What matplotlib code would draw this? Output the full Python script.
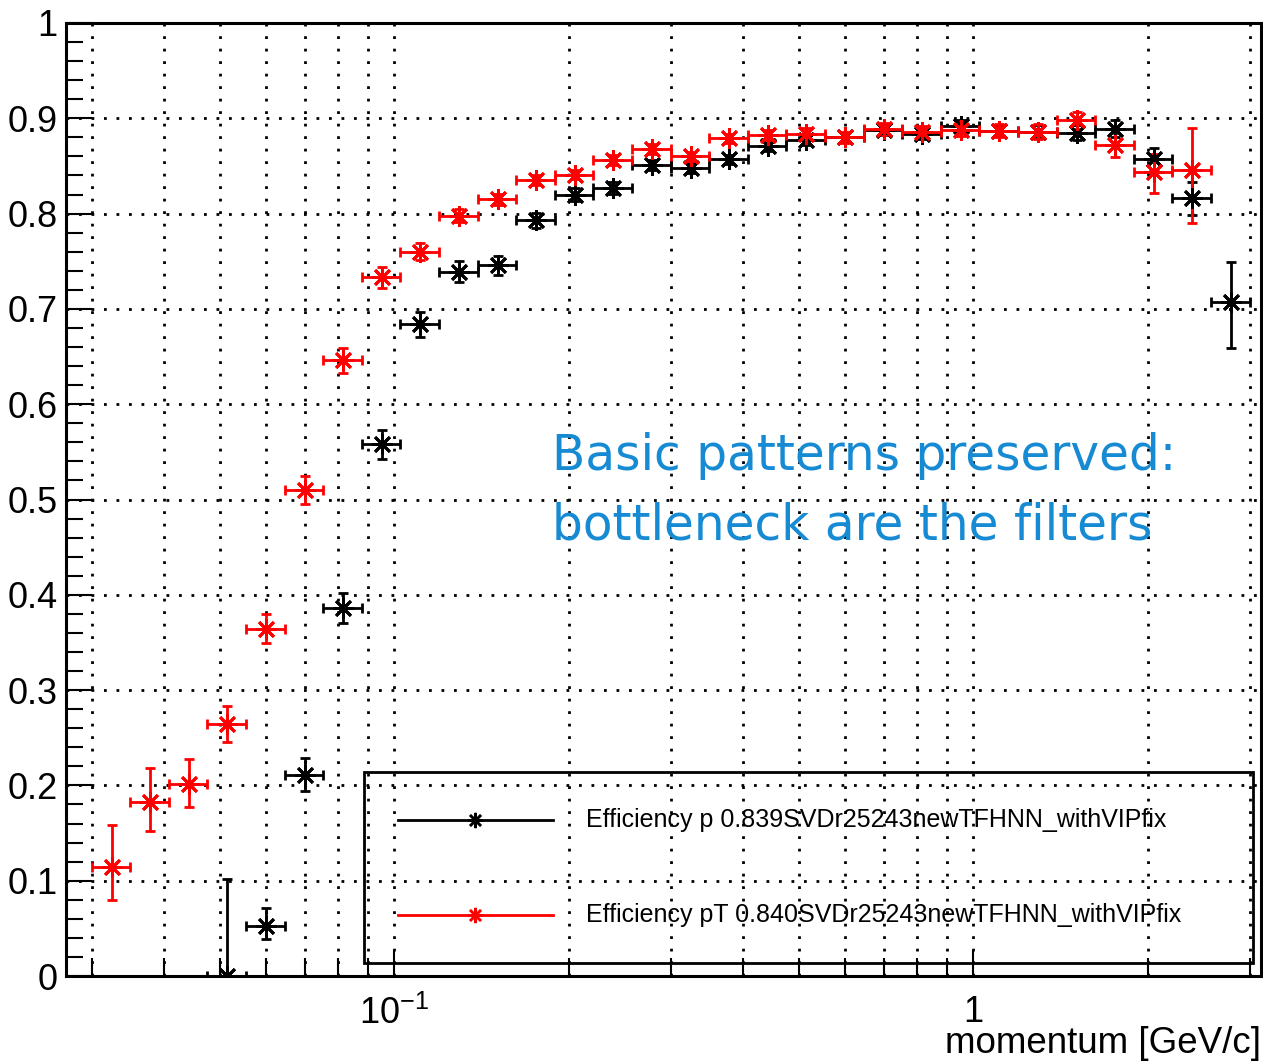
import matplotlib
matplotlib.use("Agg")
import matplotlib.pyplot as plt
from matplotlib.ticker import LogLocator, MultipleLocator, FixedLocator, FixedFormatter, NullFormatter
from matplotlib.lines import Line2D
from matplotlib.patches import Rectangle
import numpy as np

plt.rcParams['font.family'] = ['Liberation Sans', 'DejaVu Sans']
plt.rcParams['mathtext.fontset'] = 'custom'
plt.rcParams['mathtext.rm'] = 'Liberation Sans'
plt.rcParams['mathtext.it'] = 'Liberation Sans'

# momentum bins (log spaced, 15 per decade)
bin_edges = [0.030000, 0.034977, 0.040781, 0.047547, 0.055436, 0.064633, 0.075357,
             0.087859, 0.102436, 0.119432, 0.139247, 0.162350, 0.189285, 0.220690,
             0.257305, 0.300000, 0.349773, 0.407803, 0.475461, 0.554345, 0.646317,
             0.753548, 0.878570, 1.024330, 1.194273, 1.392413, 1.623425, 1.892763,
             2.206788, 2.572914, 3.000000]

# efficiency vs p (bins 3..29)
eff_p_first_bin = 3
eff_p = [0.000, 0.052, 0.211, 0.386, 0.558, 0.684, 0.739, 0.746, 0.793, 0.820,
         0.827, 0.851, 0.848, 0.857, 0.871, 0.877, 0.880, 0.888, 0.884, 0.892,
         0.887, 0.886, 0.885, 0.889, 0.857, 0.816, 0.707]
eff_p_up = [0.102, 0.019, 0.018, 0.016, 0.015, 0.013, 0.011, 0.010, 0.008, 0.007,
            0.006, 0.005, 0.005, 0.005, 0.005, 0.005, 0.005, 0.006, 0.006, 0.006,
            0.006, 0.007, 0.008, 0.009, 0.012, 0.017, 0.042]
eff_p_lo = [0.000, 0.013, 0.017, 0.016, 0.015, 0.013, 0.011, 0.010, 0.008, 0.007,
            0.006, 0.005, 0.005, 0.005, 0.005, 0.005, 0.005, 0.006, 0.006, 0.006,
            0.006, 0.007, 0.008, 0.009, 0.012, 0.017, 0.048]

# efficiency vs pT (bins 0..28)
eff_pt_first_bin = 0
eff_pt = [0.114, 0.183, 0.201, 0.264, 0.364, 0.510, 0.646, 0.733, 0.760, 0.798,
          0.815, 0.835, 0.841, 0.856, 0.868, 0.860, 0.879, 0.882, 0.884, 0.880,
          0.889, 0.886, 0.888, 0.887, 0.886, 0.898, 0.872, 0.844, 0.846]
eff_pt_up = [0.044, 0.035, 0.027, 0.019, 0.016, 0.015, 0.013, 0.011, 0.009, 0.007,
             0.006, 0.005, 0.005, 0.005, 0.005, 0.005, 0.005, 0.006, 0.006, 0.006,
             0.006, 0.006, 0.007, 0.007, 0.008, 0.009, 0.013, 0.019, 0.044]
eff_pt_lo = [0.034, 0.031, 0.024, 0.018, 0.015, 0.015, 0.013, 0.011, 0.009, 0.007,
             0.006, 0.005, 0.005, 0.005, 0.005, 0.005, 0.005, 0.006, 0.006, 0.006,
             0.006, 0.006, 0.007, 0.007, 0.008, 0.009, 0.013, 0.022, 0.056]

label_p = "Efficiency p 0.839SVDr25243newTFHNN_withVIPfix"
label_pt = "Efficiency pT 0.840SVDr25243newTFHNN_withVIPfix"
ytick_vals = [0, 0.1, 0.2, 0.3, 0.4, 0.5, 0.6, 0.7, 0.8, 0.9, 1.0]
ytick_labels = ["0", "0.1", "0.2", "0.3", "0.4", "0.5", "0.6", "0.7", "0.8", "0.9", "1"]

marker_star = (8, 2, 0)


def draw_eff(ax, first_bin, vals, up, lo, color):
    edges = np.array(bin_edges)
    n = len(vals)
    lo_e = edges[first_bin:first_bin + n]
    hi_e = edges[first_bin + 1:first_bin + n + 1]
    x = 0.5 * (lo_e + hi_e)
    ax.errorbar(x, vals, xerr=[x - lo_e, hi_e - x], yerr=[lo, up],
                fmt='none', ecolor=color, elinewidth=2, capsize=3.5, capthick=2,
                clip_on=True, zorder=3)
    ax.plot(x, vals, linestyle='none', marker=marker_star, markersize=15,
            markeredgewidth=2, color=color, zorder=4)


fig = plt.figure(figsize=(12.63, 10.61), dpi=100)
ax = fig.add_axes([66 / 1263, 1 - 976 / 1061, 1195 / 1263, 953 / 1061])

ax.set_xscale('log')
ax.set_xlim(0.0271, 3.14)
ax.set_ylim(0, 1)

draw_eff(ax, eff_p_first_bin, eff_p, eff_p_up, eff_p_lo, 'black')
draw_eff(ax, eff_pt_first_bin, eff_pt, eff_pt_up, eff_pt_lo, 'red')

# axes / ticks, ROOT style
ax.yaxis.set_major_locator(FixedLocator(ytick_vals))
ax.yaxis.set_major_formatter(FixedFormatter(ytick_labels))
ax.yaxis.set_minor_locator(MultipleLocator(0.02))
ax.xaxis.set_minor_locator(LogLocator(base=10, subs=np.arange(2, 10)))
ax.xaxis.set_minor_formatter(NullFormatter())
ax.set_xticks([0.1, 1])
ax.set_xticklabels([r'$10^{-1}$', '1'])

ax.tick_params(axis='both', which='both', direction='in', top=False, right=False, width=1.5)
ax.tick_params(axis='y', which='major', length=19, labelsize=26, pad=6)
ax.tick_params(axis='y', which='minor', length=12)
ax.tick_params(axis='x', which='major', length=19, labelsize=26, pad=14)
ax.tick_params(axis='x', which='minor', length=13)
for s in ax.spines.values():
    s.set_linewidth(2.2)

ax.grid(True, which='both', axis='x', color='black', linestyle=(0, (1, 3.5)), linewidth=2)
ax.grid(True, which='major', axis='y', color='black', linestyle=(0, (1, 3.5)), linewidth=2)
ax.set_axisbelow(True)

fig.text(1261 / 1263, 1 - 1053 / 1061, "momentum [GeV/c]", ha='right', va='baseline', fontsize=26.5)

# legend (ROOT TLegend, transparent)
lx0, lx1 = 364 / 1263, 1253 / 1263
ly0, ly1 = 1 - 963 / 1061, 1 - 772 / 1061
fig.patches.append(Rectangle((lx0, ly0), lx1 - lx0, ly1 - ly0, transform=fig.transFigure,
                             fill=False, edgecolor='black', linewidth=2))
for yy, col, lab in [(1 - 820 / 1061, 'black', label_p), (1 - 915 / 1061, 'red', label_pt)]:
    fig.lines.append(Line2D([398 / 1263, 553 / 1263], [yy, yy], transform=fig.transFigure,
                            color=col, linewidth=2))
    fig.lines.append(Line2D([475 / 1263], [yy], transform=fig.transFigure, color=col,
                            marker=marker_star, markersize=11, markeredgewidth=1.8))
    fig.text(586 / 1263, yy, lab, ha='left', va='center', fontsize=18)

# annotation
ax.text(0.4067, 0.531, "Basic patterns preserved:", transform=ax.transAxes,
        color='#168ad2', fontsize=35, family='DejaVu Sans', ha='left', va='baseline')
ax.text(0.4067, 0.4585, "bottleneck are the filters", transform=ax.transAxes,
        color='#168ad2', fontsize=35, family='DejaVu Sans', ha='left', va='baseline')

fig.savefig("out.png", dpi=100)
